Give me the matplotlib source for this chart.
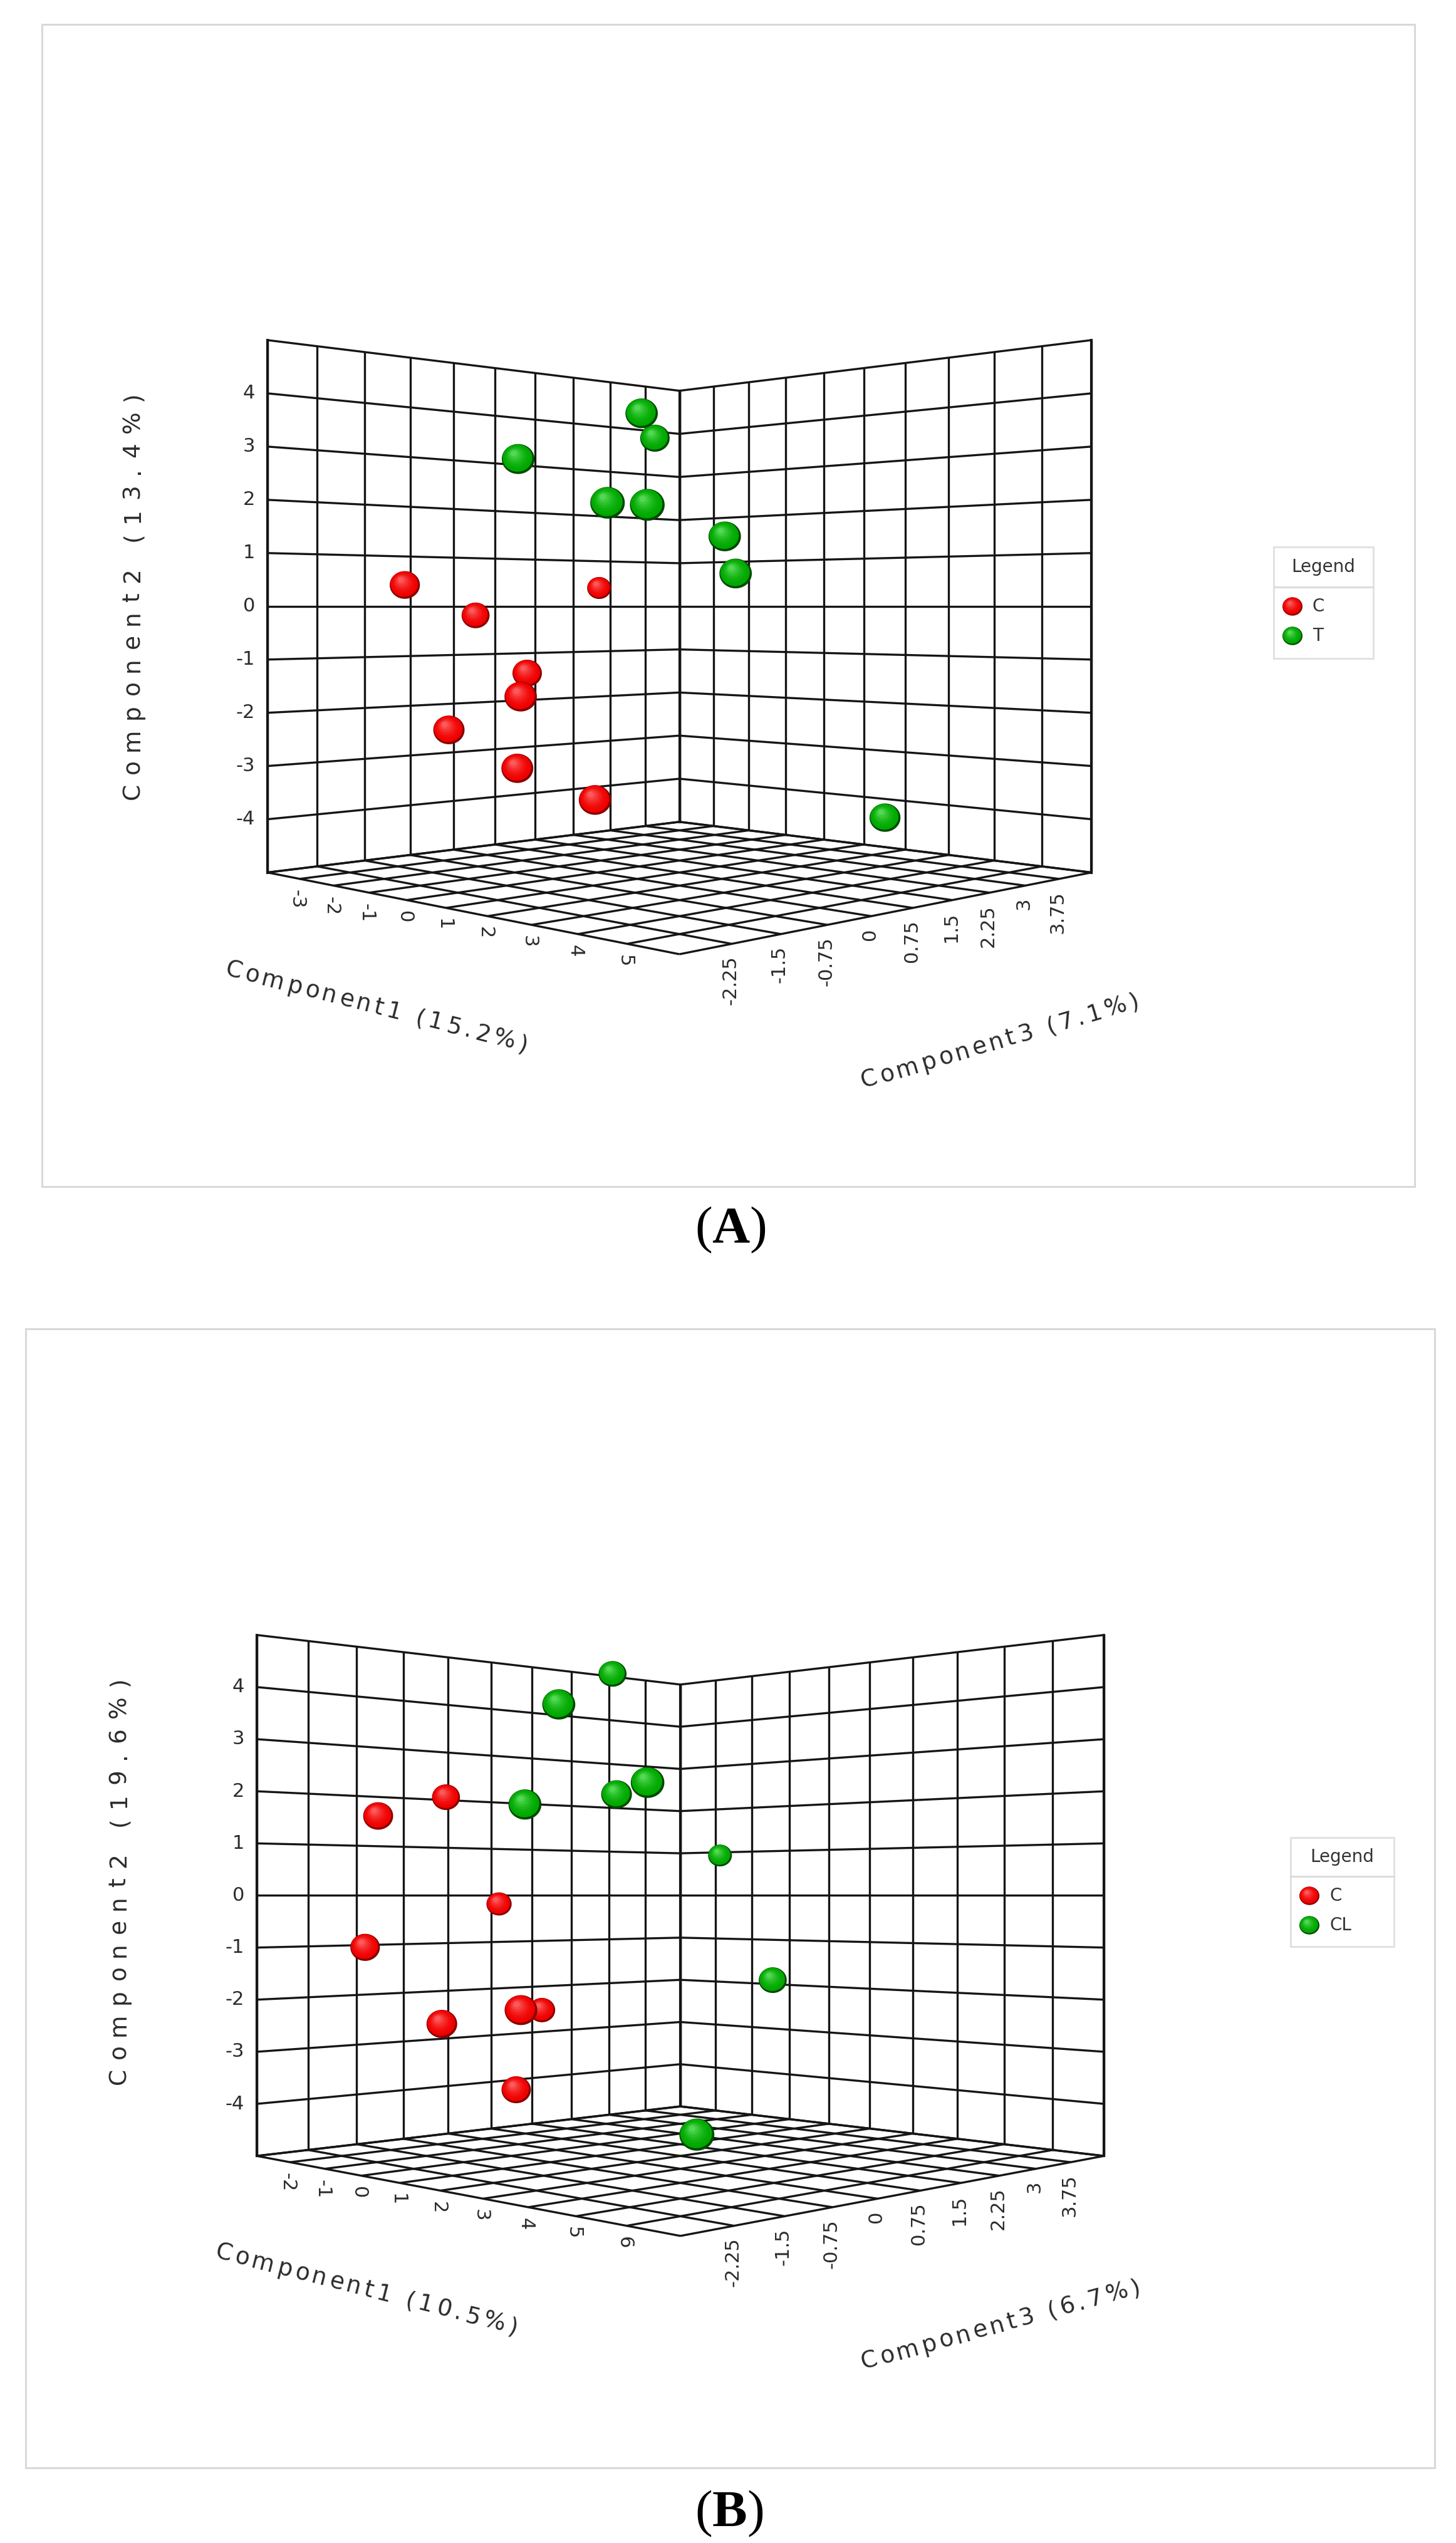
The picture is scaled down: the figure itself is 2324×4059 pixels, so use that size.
import numpy as np
import matplotlib

matplotlib.use("Agg")
from matplotlib import pyplot as plt
from matplotlib.path import Path
from matplotlib.patches import Rectangle
from matplotlib.textpath import TextPath
from matplotlib.font_manager import FontProperties

plt.rcParams["font.family"] = ["DejaVu Sans"]
plt.rcParams["mathtext.fontset"] = "custom"
plt.rcParams["mathtext.rm"] = "Liberation Serif"
plt.rcParams["mathtext.bf"] = "Liberation Serif:bold"

# %% data (scores on the three components)
a_groups = ["C", "T"]
a_c_comp1 = [-0.45, -1.40, -3.60, 0.38, 2.31, 0.81, 1.96, 3.09]
a_c_comp2 = [0.37, -0.17, 0.40, -1.19, -1.46, -2.07, -2.66, -3.13]
a_c_comp3 = [-2.78, -1.15, 2.50, -1.41, -2.72, -2.85, -2.55, -2.14]
a_t_comp1 = [3.57, 1.85, 2.46, 4.39, 4.88, 4.44, 4.56, 5.34]
a_t_comp2 = [3.12, 2.99, 2.36, 1.57, 1.53, 1.13, 0.53, -3.58]
a_t_comp3 = [-1.77, -0.31, -2.85, -2.85, -2.63, -1.12, -1.04, 0.87]

b_groups = ["C", "CL"]
b_c_comp1 = [0.16, -0.69, -2.63, -0.32, 1.39, 3.49, -0.78, 1.24]
b_c_comp2 = [1.42, 1.88, -0.18, -0.94, -2.24, -1.88, -2.31, -3.54]
b_c_comp3 = [-2.85, -1.37, 0.67, -2.78, -2.63, -2.78, 0.26, -1.44]
b_cl_comp1 = [1.27, 4.08, 3.69, 3.30, 5.29, -1.13, 3.16, 6.47]
b_cl_comp2 = [4.24, 3.10, 1.48, 1.76, 1.80, 0.90, -1.62, -3.66]
b_cl_comp3 = [0.10, -2.63, -2.85, -1.25, -2.20, 3.92, 1.51, -2.37]

a_titles = ["Component1 (15.2%)", "Component2 (13.4%)", "Component3 (7.1%)"]
b_titles = ["Component1 (10.5%)", "Component2 (19.6%)", "Component3 (6.7%)"]

a_comp1_lim = (-4, 6)
b_comp1_lim = (-3, 7)
comp2_lim = (-5, 5)
comp3_lim = (-3, 4.5)
a_comp1_ticks = [-3, -2, -1, 0, 1, 2, 3, 4, 5]
b_comp1_ticks = [-2, -1, 0, 1, 2, 3, 4, 5, 6]
comp2_ticks = [-4, -3, -2, -1, 0, 1, 2, 3, 4]
comp3_ticks = [-2.25, -1.5, -0.75, 0, 0.75, 1.5, 2.25, 3, 3.75]

# %% projection (camera looking at the box corner, perspective)
DIST = 3.01
HEIGHT = 1.054
SQ2 = np.sqrt(2)


def project(c1, c2, c3, view):
    c1, c2, c3 = np.asarray(c1, float), np.asarray(c2, float), np.asarray(c3, float)
    lo1, hi1 = view["lim1"]
    lo2, hi2 = comp2_lim
    lo3, hi3 = comp3_lim
    a = (c1 - lo1) / (hi1 - lo1) - 0.5
    b = (c3 - lo3) / (hi3 - lo3) - 0.5
    w = ((c2 - lo2) / (hi2 - lo2) - 0.5) * HEIGHT
    X = (a + b) / SQ2
    z = DIST + (b - a) / SQ2
    sx = view["x0"] + view["fx"] * X / z
    sy = view["y0"] - view["fy"] * w / z
    return sx, sy, z


view_a = dict(x0=1084.5, y0=967.75, fx=2799.0, fy=2426.6, lim1=a_comp1_lim)
view_b = dict(x0=1086.0, y0=3025.45, fx=2877.6, fy=2374.6, lim1=b_comp1_lim)

fig = plt.figure(figsize=(23.24, 40.59), dpi=100)
ax = fig.add_axes([0, 0, 1, 1])
ax.set_xlim(0, 2324)
ax.set_ylim(4059, 0)
ax.axis("off")

grid_color = "#151515"
text_color = "#2b2b2b"

t = np.linspace(0, 2 * np.pi, 73)
ELL = Path(np.column_stack([np.cos(t), np.sin(t) / 1.09]))

red = ("#8a0000", "#f00000", "#ff7070")
green = ("#004a00", "#00a800", "#66e466")


def mix(c1, c2, f):
    a = np.array(matplotlib.colors.to_rgb(c1))
    b = np.array(matplotlib.colors.to_rgb(c2))
    return tuple(a + (b - a) * f)


def sphere(x, y, rx, cols, zo):
    rim, body, light = cols
    ax.scatter([x], [y], s=(2 * rx * 0.72) ** 2, marker=ELL, c=[rim], edgecolors="none", zorder=zo)
    n = 7
    for k in range(n):
        f = k / (n - 1)
        scale = 0.91 - 0.72 * f
        dx, dy = -0.04 - 0.22 * f, -0.06 - 0.28 * f
        col = mix(body, light, f ** 1.6 * 0.8)
        ax.scatter(
            [x + dx * rx],
            [y + dy * rx],
            s=(2 * rx * scale * 0.72) ** 2,
            marker=ELL,
            c=[col],
            edgecolors="none",
            zorder=zo + 0.0001 * (k + 1),
        )


def spaced_text(x, y, angle, s, size, extra, color=text_color):
    fp = FontProperties(family="DejaVu Sans", size=size)
    base = TextPath((0, 0), "xx", prop=fp).get_extents().width
    th = np.deg2rad(angle)
    for ch in s:
        ax.text(x, y, ch, rotation=angle, rotation_mode="anchor", ha="left", va="baseline",
                fontsize=size, color=color, zorder=20)
        adv = (TextPath((0, 0), "x" + ch + "x", prop=fp).get_extents().width - base) * 100 / 72 + extra
        x += adv * np.cos(th)
        y -= adv * np.sin(th)


def draw_box(view, c1_grid, c1_ticks):
    lo1, hi1 = view["lim1"]
    lo2, hi2 = comp2_lim
    lo3, hi3 = comp3_lim
    c2_grid = np.arange(lo2, hi2 + 0.01, 1.0)
    c3_grid = np.arange(lo3, hi3 + 0.01, 0.75)
    segs = []
    # left wall (comp1 = min)
    for v in c3_grid:
        segs.append(((lo1, lo1), (lo2, hi2), (v, v)))
    for v in c2_grid:
        segs.append(((lo1, lo1), (v, v), (lo3, hi3)))
    # right wall (comp3 = max)
    for v in c1_grid:
        segs.append(((v, v), (lo2, hi2), (hi3, hi3)))
    for v in c2_grid:
        segs.append(((lo1, hi1), (v, v), (hi3, hi3)))
    # floor (comp2 = min)
    for v in c1_grid:
        segs.append(((v, v), (lo2, lo2), (lo3, hi3)))
    for v in c3_grid:
        segs.append(((lo1, hi1), (lo2, lo2), (v, v)))
    for c1, c2, c3 in segs:
        sx, sy, _ = project(c1, c2, c3, view)
        ax.plot(sx, sy, color=grid_color, lw=2.4, solid_capstyle="butt", zorder=2)
    # vertical outer edges a bit heavier
    for c1, c3 in [(lo1, lo3), (lo1, hi3), (hi1, hi3)]:
        sx, sy, _ = project([c1, c1], [lo2, hi2], [c3, c3], view)
        ax.plot(sx, sy, color=grid_color, lw=3.0, zorder=2.1)

    # tick labels
    for v in comp2_ticks:
        sx, sy, _ = project(lo1, v, lo3, view)
        ax.text(sx - 20, sy, f"{v:g}", ha="right", va="center", fontsize=22, color=text_color)
    for v in c1_ticks:
        sx, sy, _ = project(v, lo2, lo3, view)
        ax.text(sx - 4, sy + 17, f"{v:g}", rotation=-90, rotation_mode="anchor",
                ha="left", va="center", fontsize=22, color=text_color)
    for v in comp3_ticks:
        sx, sy, _ = project(hi1, lo2, v, view)
        ax.text(sx - 2, sy + 19, f"{v:g}", rotation=90, rotation_mode="anchor",
                ha="right", va="center", fontsize=22, color=text_color)


def draw_points(view, groups):
    pts = []
    for (c1, c2, c3), cols in groups:
        sx, sy, z = project(c1, c2, c3, view)
        for i in range(len(sx)):
            pts.append((z[i], sx[i], sy[i], cols))
    pts.sort(key=lambda p: -p[0])
    for i, (z, sx, sy, cols) in enumerate(pts):
        sphere(sx, sy, 67.0 / z, cols, 10 + 0.01 * i)


def draw_legend(box, sep_y, title_xy, items, marker_x, text_x):
    x0, y0, x1, y1 = box
    ax.add_patch(Rectangle((x0, y0), x1 - x0, y1 - y0, facecolor="white",
                           edgecolor="#e2e2e2", lw=2.2, zorder=30))
    ax.plot([x0, x1], [sep_y, sep_y], color="#dcdcdc", lw=2.2, zorder=31)
    ax.text(*title_xy, "Legend", ha="center", va="center", fontsize=20, color="#333333", zorder=32)
    for (label, cols, y) in items:
        sphere(marker_x, y, 16, cols, 33)
        ax.text(text_x, y, label, ha="left", va="center", fontsize=20, color="#333333", zorder=34)


# %% panel frames
for (x0, y0, x1, y1) in [(67, 39, 2258, 1894), (41, 2121, 2290, 3939)]:
    ax.add_patch(Rectangle((x0, y0), x1 - x0, y1 - y0, facecolor="none",
                           edgecolor="#d9d9d9", lw=2.2, zorder=1))

# %% panel A
a_c1_grid = np.arange(a_comp1_lim[0], a_comp1_lim[1] + 0.01, 1.0)
draw_box(view_a, a_c1_grid, a_comp1_ticks)
draw_points(view_a, [((a_c_comp1, a_c_comp2, a_c_comp3), red),
                     ((a_t_comp1, a_t_comp2, a_t_comp3), green)])
spaced_text(358, 1557, -14.3, a_titles[0], 27, 6.0)
spaced_text(222, 1276, 90, a_titles[1], 27, 15.0)
spaced_text(1378, 1737, 16.4, a_titles[2], 27, 5.6)
draw_legend((2033, 873, 2192, 1051), 937, (2112, 905),
            [(a_groups[0], red, 968), (a_groups[1], green, 1015)], 2063, 2095)
ax.text(1166, 1962, r"$\mathrm{(}\mathbf{A}\mathrm{)}$", ha="center", va="center", fontsize=60)

# %% panel B
b_c1_grid = np.arange(b_comp1_lim[0], b_comp1_lim[1] + 0.01, 1.0)
draw_box(view_b, b_c1_grid, b_comp1_ticks)
draw_points(view_b, [((b_c_comp1, b_c_comp2, b_c_comp3), red),
                     ((b_cl_comp1, b_cl_comp2, b_cl_comp3), green)])
spaced_text(342, 3604, -14.3, b_titles[0], 27, 6.0)
spaced_text(200, 3327, 90, b_titles[1], 27, 15.0)
spaced_text(1378, 3782, 15.4, b_titles[2], 27, 5.6)
draw_legend((2060, 2933, 2225, 3107), 2995, (2142, 2964),
            [(b_groups[0], red, 3026), (b_groups[1], green, 3073)], 2090, 2123)
ax.text(1164, 4011, r"$\mathrm{(}\mathbf{B}\mathrm{)}$", ha="center", va="center", fontsize=60)

fig.savefig("out.png", dpi=100, facecolor="white")
